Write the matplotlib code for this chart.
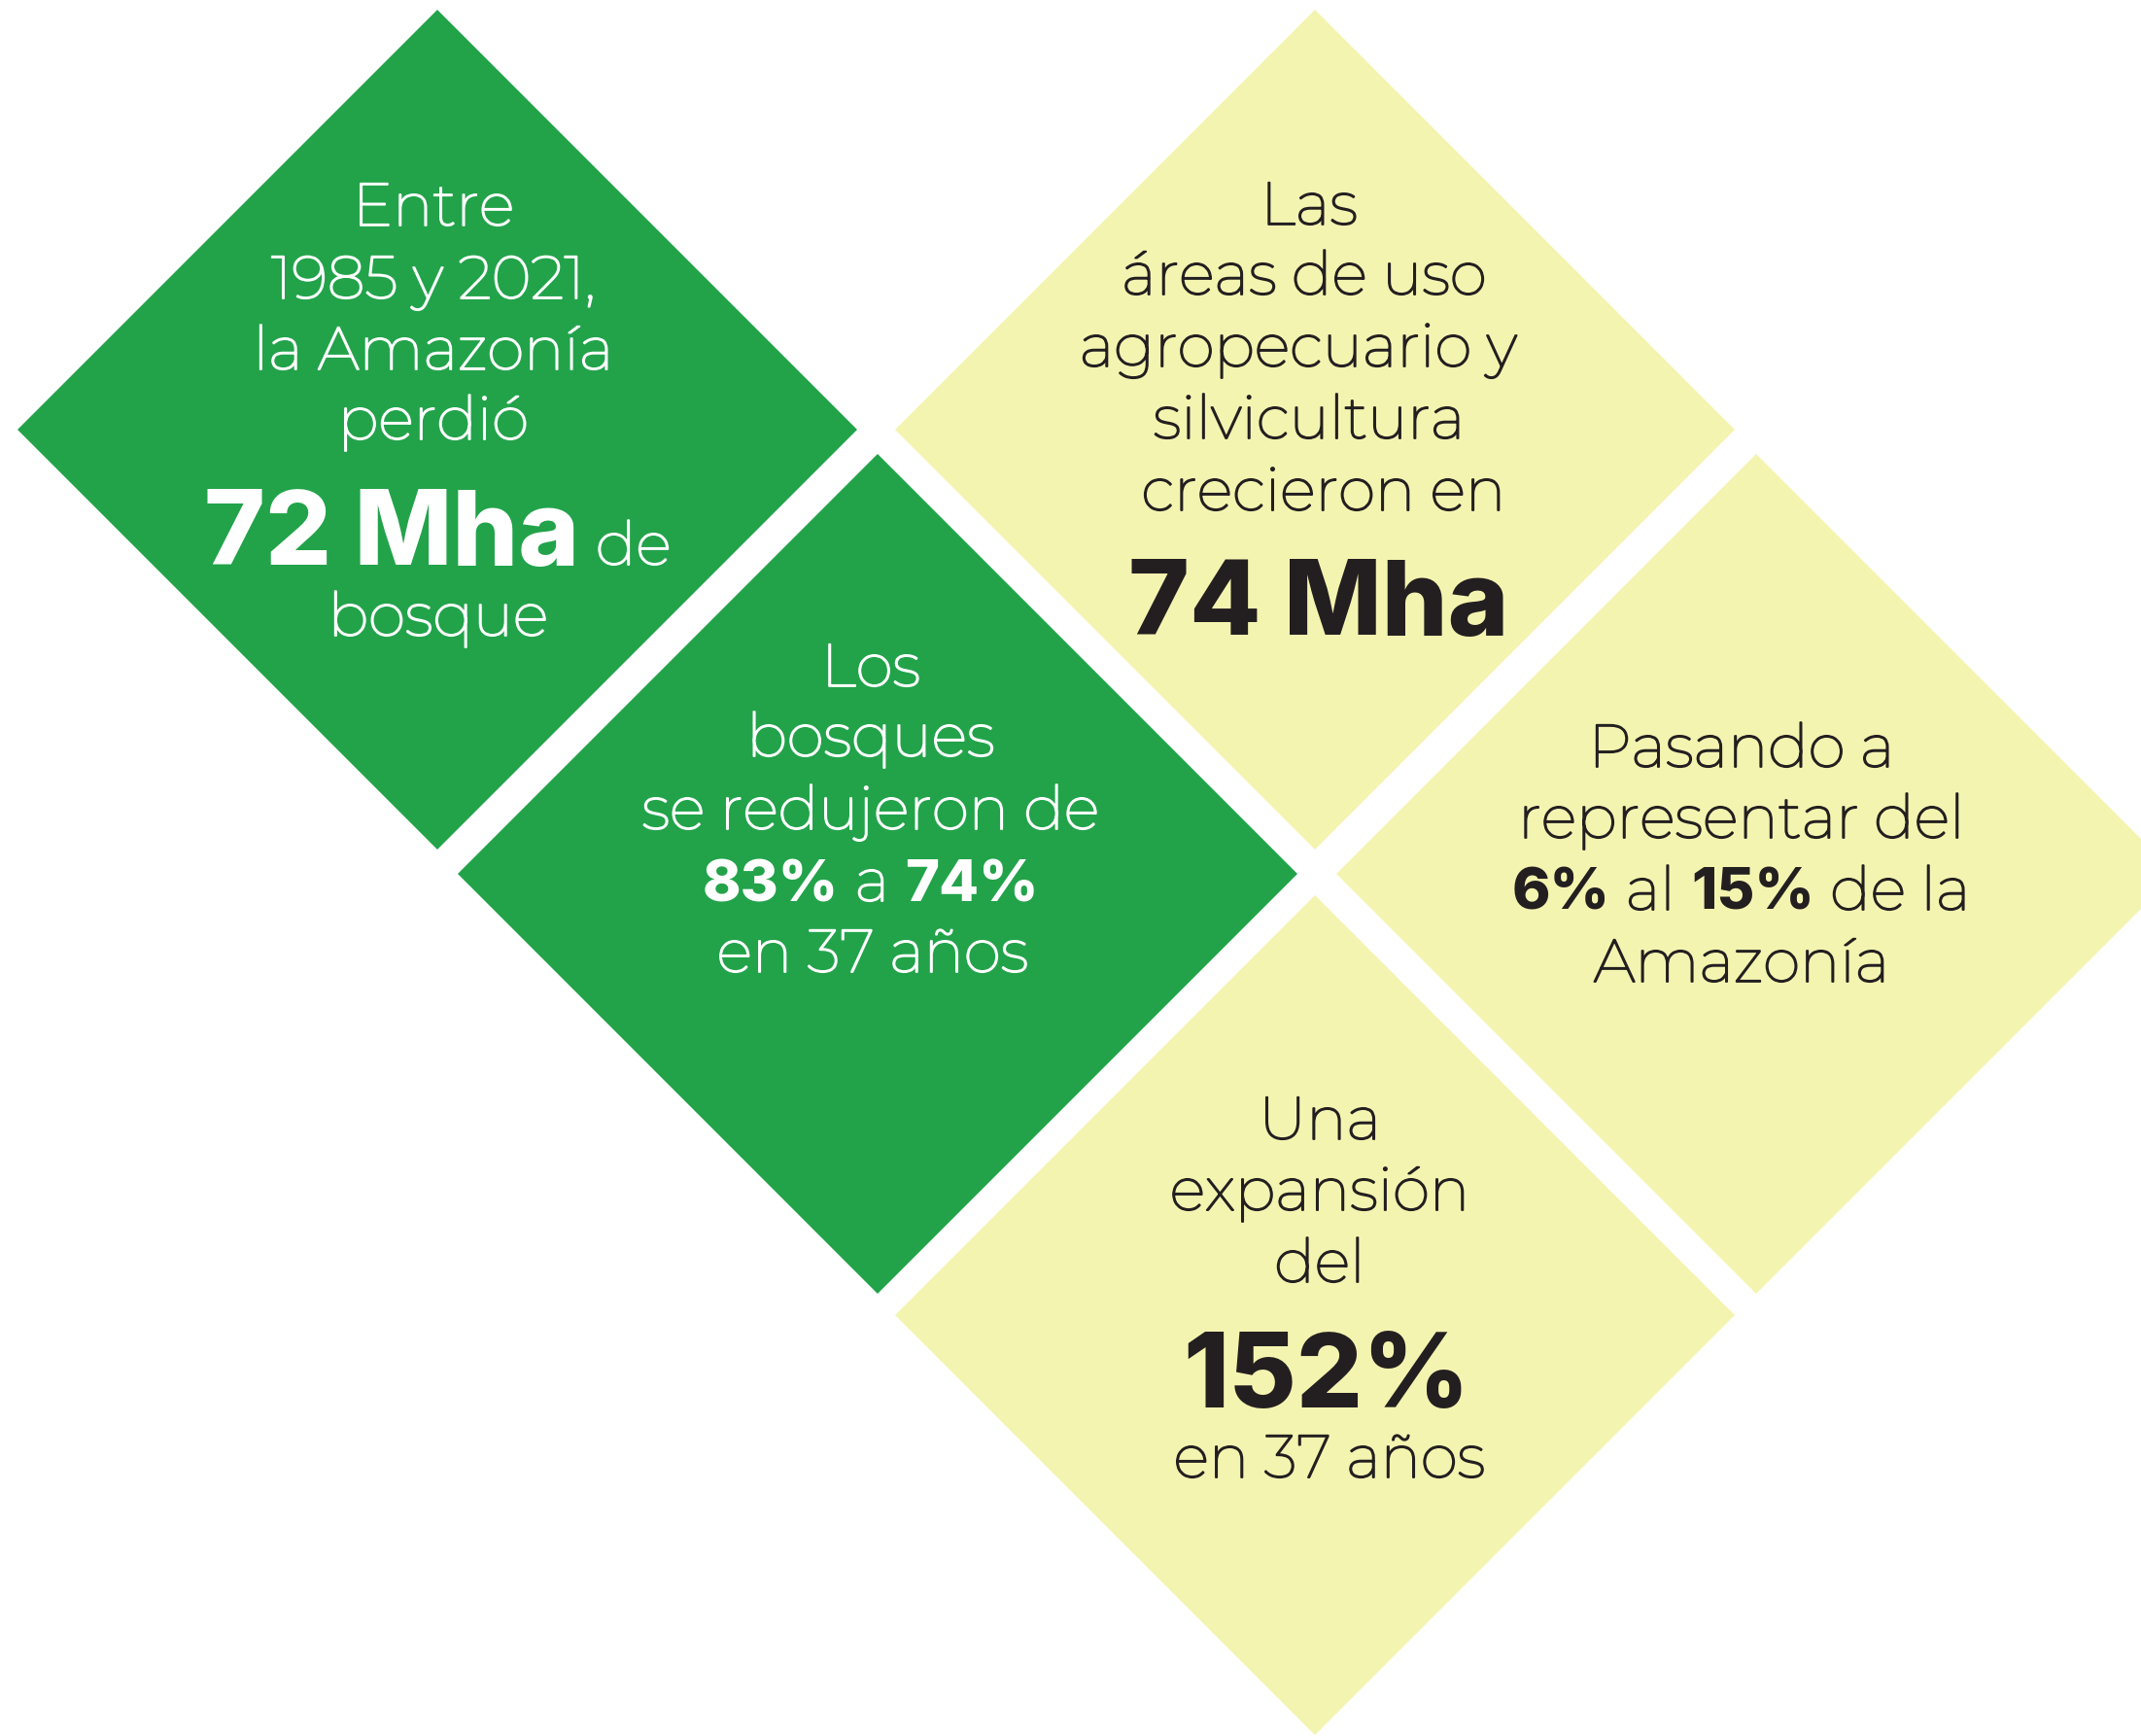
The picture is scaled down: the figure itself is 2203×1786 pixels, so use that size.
import matplotlib
matplotlib.use("Agg")
import matplotlib.pyplot as plt
import matplotlib.patheffects as pe

# figures from the infographic
start_year = 1985
end_year = 2021
period_years = 37
forest_loss = "72 Mha"
forest_share = ["83%", "74%"]
agro_growth = "74 Mha"
agro_share = ["6%", "15%"]
agro_expansion = "152%"

GREEN = "#22A34A"
YELLOW = "#F4F4B1"
DARK = "#231F20"

# diamond centres (pixels) and half diagonal
centres = [(450, 442), (903, 899), (1353, 442), (1807, 899), (1353, 1353)]
fills = [GREEN, GREEN, YELLOW, YELLOW, YELLOW]
half = 432

fig = plt.figure(figsize=(22.03, 17.86), dpi=100)
ax = fig.add_axes([0, 0, 1, 1])
ax.set_xlim(0, 2203)
ax.set_ylim(1786, 0)
ax.axis("off")

for (cx, cy), col in zip(centres, fills):
    ax.fill([cx, cx + half, cx, cx - half], [cy - half, cy, cy + half, cy], color=col, lw=0)

# light text: Montserrat (thin instance) thickened a little with a stroke
# bold numbers: Inter ExtraBold
styles = {
    "l": dict(family="Montserrat", weight="normal", size=44.5, stroke=1.3),
    "b": dict(family="Inter", weight=800, size=43, stroke=0),
    "B": dict(family="Inter", weight=800, size=77, stroke=0),
}

renderer = fig.canvas.get_renderer()


def make(x, y, txt, st, color="k"):
    s = styles[st]
    fx = [pe.withStroke(linewidth=s["stroke"], foreground=color)] if s["stroke"] else []
    return ax.text(x, y, txt, family=s["family"], weight=s["weight"], fontsize=s["size"],
                   color=color, ha="left", va="baseline", path_effects=fx)


def width(txt, st):
    t = make(0, 0, txt, st)
    w = t.get_window_extent(renderer).width
    t.remove()
    return w + styles[st]["stroke"] * 100 / 72


def line(cx, y, parts, color):
    # parts joined by one light space
    sp = width("x x", "l") - width("xx", "l")
    widths = [width(p, s) for p, s in parts]
    total = sum(widths) + sp * (len(parts) - 1)
    x = cx - total / 2
    for (p, s), w in zip(parts, widths):
        make(x + styles[s]["stroke"] * 100 / 144, y, p, s, color)
        x += w + sp


blocks = [
    (446, "white", [
        (232, [("Entre", "l")], 0),
        (307, [(f"{start_year} y {end_year},", "l")], 0),
        (380, [("la Amazonía", "l")], 0),
        (452, [("perdió", "l")], 0),
        (581, [(forest_loss, "B"), ("de", "l")], 5),
        (654, [("bosque", "l")], 5),
    ]),
    (896, "white", [
        (706, [("Los", "l")], 0),
        (778, [("bosques", "l")], 0),
        (853, [("se redujeron de", "l")], 0),
        (927, [(forest_share[0], "b"), ("a", "l"), (forest_share[1], "b")], 0),
        (1000, [(f"en {period_years} años", "l")], 2),
    ]),
    (1342, DARK, [
        (231, [("Las", "l")], 5),
        (303, [("áreas de uso", "l")], 0),
        (377, [("agropecuario y", "l")], -6),
        (451, [("silvicultura", "l")], 5),
        (525, [("crecieron en", "l")], 20),
        (653, [(agro_growth, "B")], 15),
    ]),
    (1792, DARK, [
        (789, [("Pasando a", "l")], 0),
        (862, [("representar del", "l")], 0),
        (936, [(agro_share[0], "b"), ("al", "l"), (agro_share[1], "b"), ("de la", "l")], 0),
        (1010, [("Amazonía", "l")], 0),
    ]),
    (1358, DARK, [
        (1172, [("Una", "l")], 0),
        (1245, [("expansión", "l")], 0),
        (1319, [("del", "l")], 0),
        (1448, [(agro_expansion, "B")], 7),
        (1520, [(f"en {period_years} años", "l")], 10),
    ]),
]

for cx, color, rows in blocks:
    for y, parts, dx in rows:
        line(cx + dx, y, parts, color)

fig.savefig("out.png", dpi=100)
